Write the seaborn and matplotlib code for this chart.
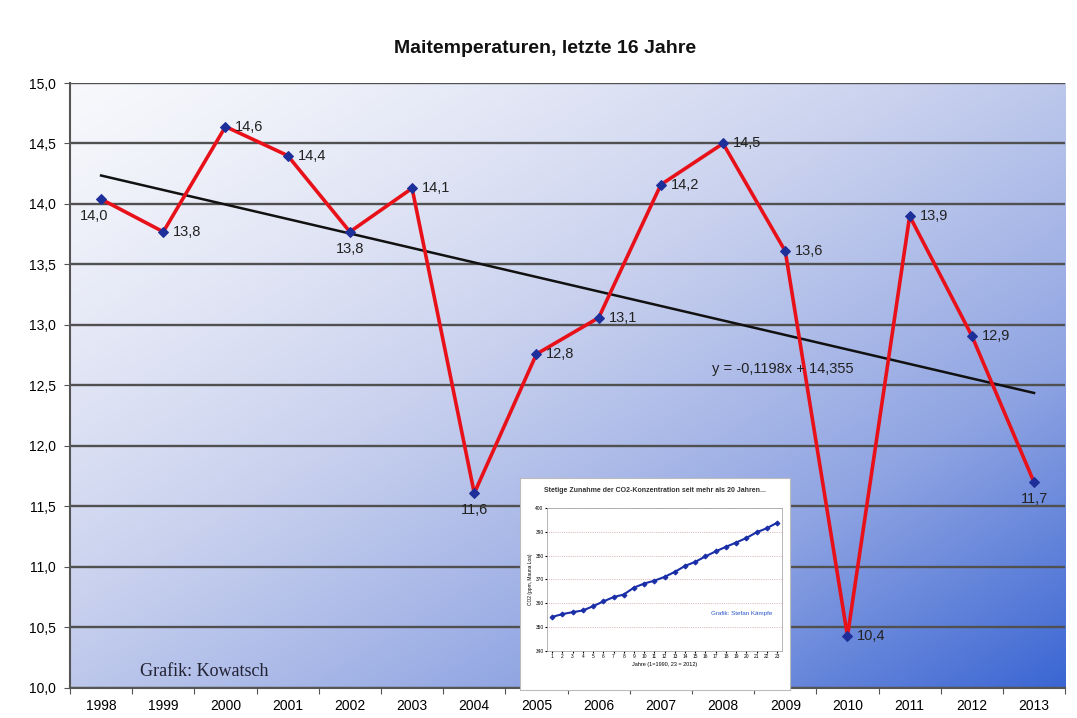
import numpy as np
import pandas as pd
import matplotlib
matplotlib.use('Agg')
import matplotlib.pyplot as plt
from matplotlib.colors import LinearSegmentedColormap
import seaborn as sns

# Maitemperaturen
years = [1998, 1999, 2000, 2001, 2002, 2003, 2004, 2005,
         2006, 2007, 2008, 2009, 2010, 2011, 2012, 2013]
temps = [14.04, 13.77, 14.64, 14.40, 13.77, 14.13, 11.61, 12.76,
         13.06, 14.16, 14.50, 13.61, 10.43, 13.90, 12.91, 11.70]
label_pos = ['bl', 'r', 'r', 'r', 'b', 'r', 'b', 'r',
             'r', 'r', 'r', 'r', 'r', 'r', 'r', 'b']

# CO2 inset (Jahre 1=1990 ... 23=2012)
co2_years = list(range(1, 24))
co2_ppm = [354.3, 355.5, 356.3, 357.0, 358.8, 360.8, 362.6, 363.7, 366.6,
           368.3, 369.5, 371.1, 373.2, 375.7, 377.4, 379.7, 381.8, 383.7,
           385.5, 387.4, 389.8, 391.5, 393.8]

df = pd.DataFrame({'idx': np.arange(len(years)), 'temp': temps})

# trend like Excel, x = 1..16
slope, icpt = np.polyfit(np.arange(1, len(temps) + 1), temps, 1)
df['trend'] = icpt + slope * (df['idx'] + 1)

def de(v, n=1):
    return f'{v:.{n}f}'.replace('.', ',')

plt.rcParams['font.family'] = ['Liberation Sans', 'DejaVu Sans']

fig = plt.figure(figsize=(10.77, 7.18), dpi=100)
fig.patch.set_facecolor('white')
pos = [0.065, 0.0418, 0.924, 0.8426]

# gradient background
bg = fig.add_axes(pos, zorder=0)
gx, gy = np.meshgrid(np.linspace(0, 1, 300), np.linspace(0, 1, 300))
t = np.clip((gx + gy) / 2, 0, 1) ** 1.3
cmap = LinearSegmentedColormap.from_list('bg', ['#f7f8fc', '#c9d1ee', '#8fa4e2', '#3b66d3'])
bg.imshow(t, cmap=cmap, aspect='auto', extent=[0, 1, 0, 1], origin='upper', vmin=0, vmax=1)
bg.axis('off')

ax = fig.add_axes(pos, zorder=1)
ax.patch.set_alpha(0)

sns.lineplot(data=df, x='idx', y='trend', color='#111111', lw=1.8, ax=ax, zorder=3)
sns.lineplot(data=df, x='idx', y='temp', color='#e8111a', lw=2.6, marker='D',
             markersize=5, markerfacecolor='#1f2f9a', markeredgecolor='#1f2f9a',
             ax=ax, zorder=4)

for i, (v, p) in enumerate(zip(temps, label_pos)):
    if p == 'r':
        ax.annotate(de(v), (i, v), xytext=(7, 0), textcoords='offset points',
                    ha='left', va='center', fontsize=10.5, color='#222222', zorder=5)
    elif p == 'b':
        ax.annotate(de(v), (i, v), xytext=(0, -7), textcoords='offset points',
                    ha='center', va='top', fontsize=10.5, color='#222222', zorder=5)
    else:
        ax.annotate(de(v), (i, v), xytext=(-5, -7), textcoords='offset points',
                    ha='center', va='top', fontsize=10.5, color='#222222', zorder=5)

ax.text(10.96, 12.64, f'y = {de(slope, 4)}x + {de(icpt, 3)}', ha='center', va='center',
        fontsize=10.5, color='#222222', zorder=5)

ax.set_xlim(-0.5, len(years) - 0.5)
ax.set_ylim(10, 15)
ax.set_yticks(np.arange(10, 15.01, 0.5))
ax.set_yticklabels([de(v) for v in np.arange(10, 15.01, 0.5)], fontsize=10)
ax.set_xticks(np.arange(-0.5, len(years), 1))
ax.set_xticklabels([])
ax.set_xticks(np.arange(len(years)), minor=True)
ax.set_xticklabels([str(y) for y in years], minor=True, fontsize=10)
ax.tick_params(axis='x', which='minor', length=0, pad=8)
ax.tick_params(axis='x', which='major', length=4, color='#555555')
ax.tick_params(axis='y', length=4, color='#555555', pad=6)
ax.set_xlabel('')
ax.set_ylabel('')
ax.grid(axis='y', color='#505050', lw=1.7, zorder=1)
ax.set_axisbelow(True)
for s in ['top', 'right']:
    ax.spines[s].set_visible(False)
for s in ['left', 'bottom']:
    ax.spines[s].set_color('#555555')
    ax.spines[s].set_linewidth(1.5)

ax.text(0.07, 0.02, 'Grafik: Kowatsch', transform=ax.transAxes, fontsize=13,
        family='Liberation Serif', color='#222233', zorder=5)

fig.text(0.506, 0.933, 'Maitemperaturen, letzte 16 Jahre', ha='center', va='center',
         fontsize=14, fontweight='bold', color='#111111')

# inset chart
box = fig.add_axes([0.4828, 0.039, 0.2507, 0.2953], zorder=6)
box.set_facecolor('white')
box.set_xticks([])
box.set_yticks([])
for s in box.spines.values():
    s.set_color('#bbbbbb')
box.text(0.5, 0.94, 'Stetige Zunahme der CO2-Konzentration seit mehr als 20 Jahren...',
         transform=box.transAxes, ha='center', va='center', fontsize=5, fontweight='bold',
         color='#333333')

ins = fig.add_axes([0.508, 0.0933, 0.2182, 0.1992], zorder=7)
ins.set_facecolor('white')
sns.lineplot(x=co2_years, y=co2_ppm, color='#1a2ea8', lw=1.5, marker='D', markersize=2.5,
             markeredgecolor='#1a2ea8', ax=ins)
ins.set_xlim(0.5, 23.5)
ins.set_ylim(340, 400)
ins.set_yticks(range(340, 401, 10))
ins.set_xticks(co2_years)
ins.tick_params(labelsize=3.5, length=1.5, pad=1)
ins.grid(axis='y', color='#c98080', lw=0.5, ls=':')
for s in ins.spines.values():
    s.set_color('#999999')
    s.set_linewidth(0.5)
ins.set_xlabel('Jahre (1=1990, 23 = 2012)', fontsize=4, labelpad=2)
ins.set_ylabel('CO2 (ppm, Mauna Loa)', fontsize=3.5, labelpad=2)
ins.text(0.83, 0.25, 'Grafik: Stefan Kämpfe', transform=ins.transAxes, ha='center',
         fontsize=4.5, color='#2a55c8')

fig.savefig('out.png', dpi=100)
